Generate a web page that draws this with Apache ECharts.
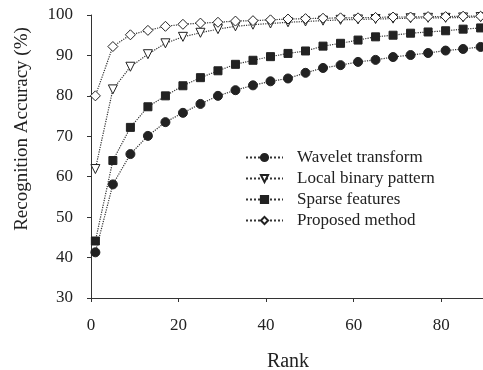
<!DOCTYPE html>
<html>
<head>
<meta charset="utf-8">
<script src="https://cdn.jsdelivr.net/npm/echarts@6/dist/echarts.min.js"></script>
<style>html,body{margin:0;padding:0;background:#fff;}#c{width:483px;height:370px;}</style>
</head>
<body>
<div id="c"></div>
<script>
const ranks = [1,5,9,13,17,21,25,29,33,37,41,45,49,53,57,61,65,69,73,77,81,85,89];
const wavelet = [41.3,58.1,65.6,70.1,73.5,75.8,78.0,80.0,81.4,82.6,83.6,84.3,85.7,86.9,87.6,88.4,88.9,89.6,90.1,90.6,91.2,91.6,92.1];
const lbp = [61.9,81.6,87.2,90.3,93.0,94.6,95.6,96.5,97.2,97.6,97.9,98.2,98.4,98.6,98.8,98.9,99.0,99.1,99.2,99.3,99.3,99.4,99.5];
const sparse = [44.1,64.0,72.2,77.3,80.0,82.5,84.5,86.2,87.8,88.8,89.7,90.5,91.1,92.3,93.0,93.8,94.6,95.0,95.5,95.8,96.1,96.5,96.8];
const proposed = [80.0,92.2,95.1,96.2,97.2,97.7,98.0,98.2,98.5,98.6,98.8,99.0,99.1,99.2,99.3,99.3,99.4,99.5,99.5,99.6,99.6,99.7,99.7];
const seriesNames = ['Wavelet transform','Local binary pattern','Sparse features','Proposed method'];
const xTicks = [0,20,40,60,80];
const yTicks = [30,40,50,60,70,80,90,100];

const FONT = '"Liberation Serif","Times New Roman",serif';
const INK = '#222';
function pairs(v){ return ranks.map((r,i)=>[r,v[i]]); }
function mk(name, vals, symbol, size, filled, rotate){
  return {
    name, type:'line', data: pairs(vals),
    symbol, symbolSize: size, symbolRotate: rotate||0,
    showAllSymbol: true,
    lineStyle:{color:'#333', width:1.2, type:'dotted'},
    itemStyle: filled ? {color:INK, borderColor:INK, borderWidth:1}
                      : {color:'#fff', borderColor:INK, borderWidth:1},
    emphasis:{disabled:true}, animation:false
  };
}
const chart = echarts.init(document.getElementById('c'));
chart.setOption({
  animation:false,
  backgroundColor:'#fff',
  grid:{left:91, right:-2, top:15, bottom:72, containLabel:false, outerBoundsMode:'none'},
  legend:{
    orient:'vertical', left:245, top:149, padding:0,
    itemWidth:37, itemHeight:9, itemGap:4,
    textStyle:{fontFamily:FONT, fontSize:17, color:INK, padding:[0,0,0,9]},
    data: seriesNames
  },
  xAxis:{
    type:'value', min:0, max:90, interval:20,
    name:'Rank', nameLocation:'middle', nameGap:54,
    nameTextStyle:{fontFamily:FONT, fontSize:20, color:INK},
    axisLine:{show:true, lineStyle:{color:'#333', width:1}},
    axisTick:{show:true, length:4, lineStyle:{color:'#333'}},
    axisLabel:{fontFamily:FONT, fontSize:17, color:INK, margin:19, showMaxLabel:false,
      formatter: v => xTicks.indexOf(v) >= 0 ? String(v) : ''},
    splitLine:{show:false}
  },
  yAxis:{
    type:'value', min:30, max:100, interval:10,
    axisLine:{show:true, lineStyle:{color:'#333', width:1}},
    axisTick:{show:true, length:4, lineStyle:{color:'#333'}},
    axisLabel:{fontFamily:FONT, fontSize:17, color:INK, margin:18,
      formatter: v => yTicks.indexOf(v) >= 0 ? String(v) : ''},
    splitLine:{show:false}
  },
  graphic:[{
    type:'text', x:22, y:129, rotation:Math.PI/2,
    style:{text:'Recognition Accuracy (%)', fontFamily:FONT, fontSize:19, fill:INK,
      textAlign:'center', textVerticalAlign:'middle'}
  }],
  series:[
    mk(seriesNames[0], wavelet, 'circle', 9, true),
    mk(seriesNames[1], lbp, 'triangle', 9, false, 180),
    mk(seriesNames[2], sparse, 'rect', 8, true),
    mk(seriesNames[3], proposed, 'diamond', 10, false)
  ]
});
</script>
</body>
</html>
